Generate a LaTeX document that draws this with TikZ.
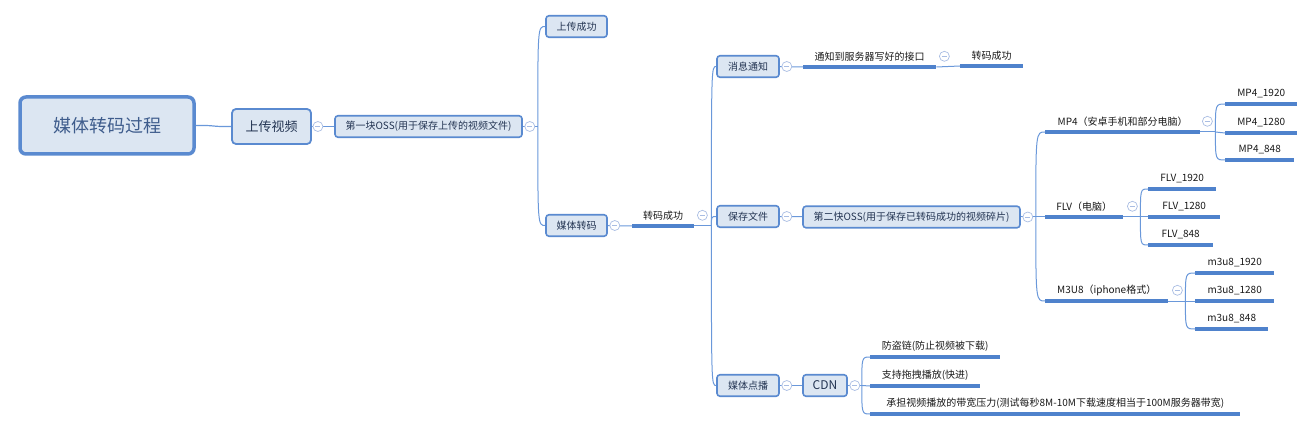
\documentclass[tikz,border=0pt]{standalone}
\usepackage{fontspec}
\setmainfont{Noto Sans CJK SC}
\definecolor{boxfill}{HTML}{DCE6F2}
\definecolor{boxline}{HTML}{5A8AD0}
\definecolor{linkcol}{HTML}{6A98DA}
\definecolor{barcol}{HTML}{4F82CC}
\definecolor{foldcol}{HTML}{A9BDE3}
\definecolor{roottext}{HTML}{3E5C8C}
\definecolor{boxtext}{HTML}{233452}
\tikzset{
  rootbox/.style={draw=boxline,line width=3.5pt,fill=boxfill,rounded corners=6pt,text=roottext,font=\fontsize{18}{22}\selectfont,minimum width=174pt,minimum height=57pt},
  topic/.style={draw=boxline,line width=1.8pt,fill=boxfill,rounded corners=4pt,text=boxtext,font=\fontsize{13}{16}\selectfont,minimum height=35pt},
  subtopic/.style={draw=boxline,line width=1.6pt,fill=boxfill,rounded corners=3pt,text=boxtext,font=\fontsize{10}{12}\selectfont,minimum height=21.5pt,inner xsep=0pt},
  bar/.style={draw=barcol,line width=3.2pt},
  leaf/.style={anchor=south west,minimum height=21pt,inner xsep=0pt,inner ysep=0pt,font=\fontsize{10}{12}\selectfont,text=black!90,
    append after command={(\tikzlastnode.south west) edge[bar] (\tikzlastnode.south east)}},
  link/.style={draw=linkcol,line width=1pt},
  fold/.style={circle,draw=foldcol,fill=white,line width=0.7pt,minimum size=10pt,inner sep=0pt,
    path picture={\draw[foldcol,line width=0.7pt] ([xshift=2.5pt]path picture bounding box.west) -- ([xshift=-2.5pt]path picture bounding box.east);}}
}
\begin{document}
\begin{tikzpicture}[x=1pt,y=-1pt]
\useasboundingbox (0,0) rectangle (1314,430);
% main topics
\node[rootbox] (root) at (107,125.5) {媒体转码过程};
\node[topic,minimum width=79] (upload) at (271.5,126.5) {上传视频};
\node[subtopic,minimum width=187] (oss1) at (428.5,126.5) {第一块OSS(用于保存上传的视频文件)};
\node[subtopic,minimum width=61] (upok) at (576.5,26.5) {上传成功};
\node[subtopic,minimum width=61] (trans) at (576.5,225.5) {媒体转码};
\node[leaf,minimum width=62] (transok) at (632,226) {转码成功};
\node[subtopic,minimum width=62] (notify) at (748,66.5) {消息通知};
\node[subtopic,minimum width=62] (save) at (748,216.5) {保存文件};
\node[subtopic,minimum width=62] (vod) at (748,385.5) {媒体点播};
% notify branch
\node[leaf,minimum width=133] (notiapi) at (803,67) {通知到服务器写好的接口};
\node[leaf,minimum width=63] (notiok) at (960,66) {转码成功};
% save branch
\node[subtopic,minimum width=217] (oss2) at (911.5,217) {第二快OSS(用于保存已转码成功的视频碎片)};
\node[leaf,minimum width=155] (mp4) at (1045,132) {MP4（安卓手机和部分电脑）};
\node[leaf,minimum width=78] (flv) at (1045,217) {FLV（电脑）};
\node[leaf,minimum width=123] (m3u8) at (1045,301) {M3U8（iphone格式）};
\node[leaf,minimum width=72] (mp4a) at (1225,104) {MP4\_1920};
\node[leaf,minimum width=72] (mp4b) at (1225,133) {MP4\_1280};
\node[leaf,minimum width=69] (mp4c) at (1225,160) {MP4\_848};
\node[leaf,minimum width=68] (flva) at (1148,189) {FLV\_1920};
\node[leaf,minimum width=72] (flvb) at (1148,217) {FLV\_1280};
\node[leaf,minimum width=65] (flvc) at (1148,245) {FLV\_848};
\node[leaf,minimum width=79] (m3a) at (1195,273) {m3u8\_1920};
\node[leaf,minimum width=79] (m3b) at (1195,301) {m3u8\_1280};
\node[leaf,minimum width=73] (m3c) at (1195,329) {m3u8\_848};
% vod branch
\node[subtopic,minimum width=44] (cdn) at (825,385.5) {\fontsize{12}{14}\selectfont CDN};
\node[leaf,minimum width=130] (cdna) at (870,357) {防盗链(防止视频被下载)};
\node[leaf,minimum width=110] (cdnb) at (870,386) {支持拖拽播放(快进)};
\node[leaf,minimum width=370] (cdnc) at (870,414) {承担视频播放的带宽压力(测试每秒8M-10M下载速度相当于100M服务器带宽)};
% forks
\coordinate (koss1) at ([xshift=15pt]oss1.east);
\coordinate (ktrans) at ([xshift=17pt]transok.south east);
\coordinate (koss2) at ([xshift=15pt]oss2.east);
\coordinate (kmp4) at ([xshift=15pt]mp4.south east);
\coordinate (kflv) at ([xshift=17pt]flv.south east);
\coordinate (km3u8) at ([xshift=17pt]m3u8.south east);
\coordinate (kcdn) at ([xshift=14pt]cdn.east);
% connectors
\draw[link,line width=1.2pt] (root.east) .. controls (215,125) and (212,127) .. (upload.west);
\draw[link] (upload) -- (oss1);
\draw[link] (oss1) -- (koss1);
\draw[link] (koss1) .. controls (koss1 |- upok.west) .. (upok.west);
\draw[link] (koss1) .. controls (koss1 |- trans.west) .. (trans.west);
\draw[link] (trans.east) -- (transok.south west);
\draw[link] (transok.south east) -- (ktrans);
\draw[link] (ktrans) .. controls (ktrans |- notify.west) .. (notify.west);
\draw[link] (ktrans) .. controls (ktrans |- save.west) .. (save.west);
\draw[link] (ktrans) .. controls (ktrans |- vod.west) .. (vod.west);
\draw[link] (notify.east) -- (notiapi.south west);
\draw[link] (notiapi.south east) -- (notiok.south west);
\draw[link] (save) -- (oss2);
\draw[link] (oss2) -- (koss2);
\draw[link] (koss2) .. controls (koss2 |- mp4.south west) .. (mp4.south west);
\draw[link] (koss2) -- (flv.south west);
\draw[link] (koss2) .. controls (koss2 |- m3u8.south west) .. (m3u8.south west);
\draw[link] (mp4.south east) -- (kmp4);
\draw[link] (kmp4) .. controls (kmp4 |- mp4a.south west) .. (mp4a.south west);
\draw[link] (kmp4) -- (mp4b.south west);
\draw[link] (kmp4) .. controls (kmp4 |- mp4c.south west) .. (mp4c.south west);
\draw[link] (flv.south east) -- (kflv);
\draw[link] (kflv) .. controls (kflv |- flva.south west) .. (flva.south west);
\draw[link] (kflv) -- (flvb.south west);
\draw[link] (kflv) .. controls (kflv |- flvc.south west) .. (flvc.south west);
\draw[link] (m3u8.south east) -- (km3u8);
\draw[link] (km3u8) .. controls (km3u8 |- m3a.south west) .. (m3a.south west);
\draw[link] (km3u8) -- (m3b.south west);
\draw[link] (km3u8) .. controls (km3u8 |- m3c.south west) .. (m3c.south west);
\draw[link] (vod) -- (cdn);
\draw[link] (cdn) -- (kcdn);
\draw[link] (kcdn) .. controls (kcdn |- cdna.south west) .. (cdna.south west);
\draw[link] (kcdn) -- (cdnb.south west);
\draw[link] (kcdn) .. controls (kcdn |- cdnc.south west) .. (cdnc.south west);
% fold marks
\node[fold] (fupload) at ([xshift=6pt]upload.east) {};
\node[fold] (foss1) at ([xshift=7pt]oss1.east) {};
\node[fold] (ftrans) at ([xshift=7pt]trans.east) {};
\node[fold] (ftransok) at ([xshift=8pt]transok.east) {};
\node[fold] (fnotify) at ([xshift=7pt]notify.east) {};
\node[fold] (fnotiapi) at ([xshift=8pt]notiapi.east) {};
\node[fold] (fsave) at ([xshift=7pt]save.east) {};
\node[fold] (foss2) at ([xshift=7pt]oss2.east) {};
\node[fold] (fmp4) at ([xshift=7pt]mp4.east) {};
\node[fold] (fflv) at ([xshift=9pt]flv.east) {};
\node[fold] (fm3u8) at ([xshift=9pt]m3u8.east) {};
\node[fold] (fvod) at ([xshift=7pt]vod.east) {};
\node[fold] (fcdn) at ([xshift=7pt]cdn.east) {};
\end{tikzpicture}
\end{document}
